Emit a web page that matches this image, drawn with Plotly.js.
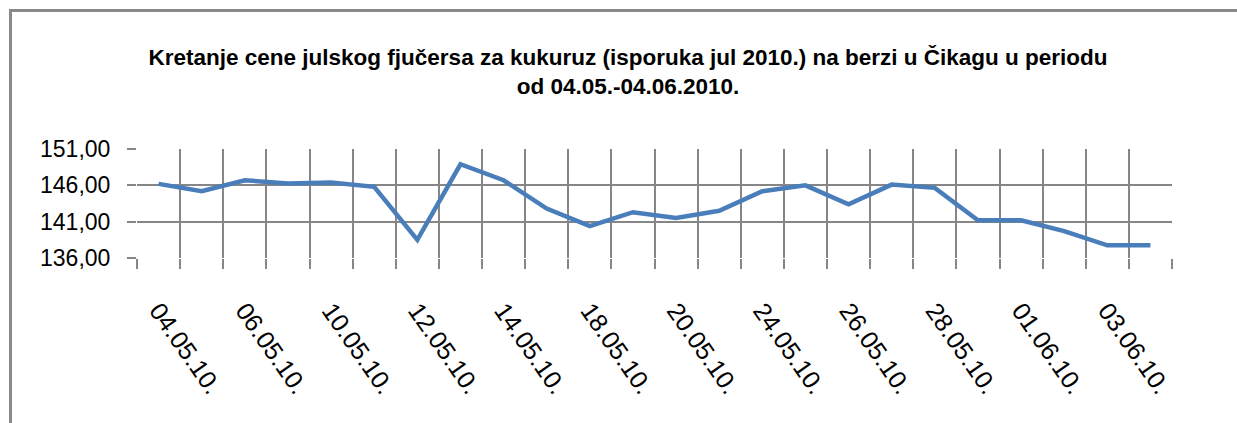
<!DOCTYPE html>
<html>
<head>
<meta charset="utf-8">
<script src="https://cdn.plot.ly/plotly-3.0.1.min.js"></script>
<style>
  html, body { margin: 0; padding: 0; background: #ffffff; }
  #wrap { position: relative; width: 1237px; height: 423px; overflow: hidden; }
  #chart { position: absolute; left: 0; top: 0; width: 1237px; height: 423px; }
  #frame { position: absolute; left: 9px; top: 9px; width: 1240px; height: 430px;
           border-left: 3px solid #8a8a8a; border-top: 3px solid #8a8a8a; pointer-events: none; }
</style>
</head>
<body>
<div id="wrap">
  <div id="chart"></div>
  <div id="frame"></div>
</div>
<script>
// Trading days (categories)
const dates = [
  "04.05.10.", "05.05.10.", "06.05.10.", "07.05.10.", "10.05.10.", "11.05.10.",
  "12.05.10.", "13.05.10.", "14.05.10.", "17.05.10.", "18.05.10.", "19.05.10.",
  "20.05.10.", "21.05.10.", "24.05.10.", "25.05.10.", "26.05.10.", "27.05.10.",
  "28.05.10.", "31.05.10.", "01.06.10.", "02.06.10.", "03.06.10.", "04.06.10."
];
// Price of July corn futures
const prices = [
  146.2, 145.2, 146.7, 146.25, 146.4, 145.8,
  138.5, 148.9, 146.7, 142.8, 140.4, 142.3,
  141.5, 142.5, 145.2, 146.0, 143.4, 146.1,
  145.65, 141.2, 141.2, 139.7, 137.75, 137.75
];
// Y axis ticks
const yTicks = [136, 141, 146, 151];

const titleLines = [
  "Kretanje cene julskog fjučersa za kukuruz (isporuka jul 2010.) na berzi u Čikagu u periodu",
  "od 04.05.-04.06.2010."
];

// category positions (one slot per trading day)
const idx = dates.map((d, i) => i);
const labelIdx = idx.filter(i => i % 2 === 0);
const labelText = labelIdx.map(i => dates[i]);
const boundaries = idx.map(i => i - 0.5).concat([dates.length - 0.5]);
const xRange = [-0.5, dates.length - 0.5];

const gridColor = "#868686";
const fontStack = "'Liberation Sans', Arial, sans-serif";

const trace = {
  type: "scatter",
  mode: "lines",
  x: idx,
  y: prices,
  text: dates,
  line: { color: "#4a7ebb", width: 4.5 },
  hoverinfo: "text+y"
};

const layout = {
  width: 1237,
  height: 423,
  paper_bgcolor: "#ffffff",
  plot_bgcolor: "#ffffff",
  separators: ",.",
  showlegend: false,
  margin: { l: 137, r: 65, t: 149, b: 165, pad: 0 },
  title: {
    text: "<b>" + titleLines[0] + "</b><br><b>" + titleLines[1] + "</b>",
    font: { family: fontStack, size: 22.5, color: "#000000" },
    xref: "container", x: 0.5077,
    yref: "container", y: 0.846, yanchor: "top",
    xanchor: "center"
  },
  xaxis: {
    type: "linear",
    range: xRange,
    tickmode: "array",
    tickvals: labelIdx,
    ticktext: labelText,
    showgrid: false,
    ticks: "",
    tickangle: 55,
    ticklabelstandoff: 32,
    tickfont: { family: fontStack, size: 25, color: "#000000" },
    minor: {
      tickmode: "array",
      tickvals: boundaries,
      showgrid: true,
      gridcolor: gridColor,
      gridwidth: 2,
      ticks: "outside",
      ticklen: 10,
      tickwidth: 2,
      tickcolor: gridColor
    },
    showline: false,
    zeroline: false,
    fixedrange: true
  },
  yaxis: {
    range: [136, 151],
    tickmode: "array",
    tickvals: yTicks,
    tickformat: ".2f",
    showgrid: true,
    gridcolor: gridColor,
    gridwidth: 2,
    ticks: "outside",
    ticklen: 9,
    tickwidth: 2,
    tickcolor: gridColor,
    ticklabelstandoff: 12,
    tickfont: { family: fontStack, size: 23, color: "#000000" },
    showline: false,
    zeroline: false,
    fixedrange: true
  }
};

Plotly.newPlot("chart", [trace], layout, { displayModeBar: false, staticPlot: true });
</script>
</body>
</html>
